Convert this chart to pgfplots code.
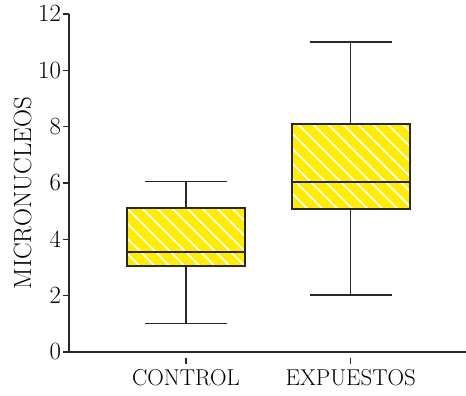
\documentclass[border=0pt]{standalone}
\usepackage{pgfplots}
\pgfplotsset{compat=1.18}
\usepgfplotslibrary{statistics}
\usetikzlibrary{patterns.meta}
\definecolor{boxyellow}{RGB}{255,236,0}
\definecolor{linegray}{RGB}{40,40,40}
\begin{document}
\begin{tikzpicture}
\begin{axis}[
  name=ax,
  scale only axis,
  width=397bp, height=338bp,
  xmin=0.29, xmax=2.70,
  ymin=0, ymax=12,
  axis x line*=bottom, axis y line*=left,
  axis line style={linegray, line width=1.5bp},
  ytick={0,2,4,6,8,10,12},
  xtick={1,2},
  xticklabels={CONTROL,EXPUESTOS},
  tick align=outside,
  y tick style={linegray, line width=1.2bp},
  major tick length=6bp,
  x tick style={linegray, line width=1.2bp, yshift=-6bp},
  xticklabel style={font=\fontsize{23}{27}\selectfont, yshift=-8bp},
  yticklabel style={font=\fontsize{23.5}{27}\selectfont, xshift=1.5bp},
  ylabel={MICRONUCLEOS},
  ylabel style={font=\fontsize{25}{28}\selectfont, yshift=0bp, xshift=-10bp},
  boxplot/draw direction=y,
  boxplot/box extend=0.715,
  boxplot/whisker extend=0.5,
  boxplot/every box/.style={draw=linegray, line width=2bp, fill=boxyellow,
     postaction={pattern={Lines[angle=-45, distance=10.6bp, line width=1.6bp]}, pattern color=white}},
  boxplot/every whisker/.style={draw=linegray, line width=1.5bp},
  boxplot/every median/.style={draw=linegray, line width=2bp},
  clip=false,
]
\addplot+[boxplot prepared={lower whisker=1.02, lower quartile=3.07, median=3.55, upper quartile=5.1, upper whisker=6.05, draw position=1}, mark=none, draw=linegray] coordinates {};
\addplot+[boxplot prepared={lower whisker=2.03, lower quartile=5.08, median=6.05, upper quartile=8.08, upper whisker=11.0, draw position=2}, mark=none, draw=linegray] coordinates {};
\end{axis}
\pgfresetboundingbox
\path[use as bounding box] ([shift={(-69bp,-44bp)}]ax.south west) rectangle ([shift={(0bp,14bp)}]ax.north east);
\end{tikzpicture}
\end{document}
